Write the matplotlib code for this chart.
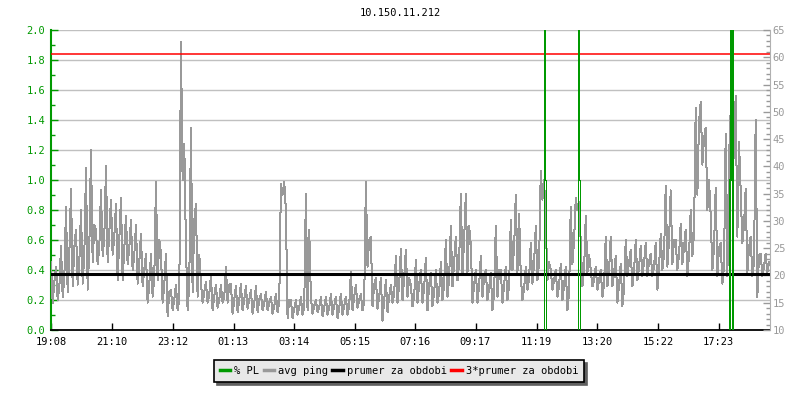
import numpy as np
import matplotlib
matplotlib.use("Agg")
import matplotlib.pyplot as plt
from matplotlib.lines import Line2D
from matplotlib.ticker import MultipleLocator

plt.rcParams['font.family'] = ['DejaVu Sans Mono']

title = '10.150.11.212'

# casove znacky na ose x (minuty od 19:08)
time_labels = ['19:08', '21:10', '23:12', '01:13', '03:14', '05:15',
               '07:16', '09:17', '11:19', '13:20', '15:22', '17:23']
time_pos = [0, 122, 244, 365, 486, 607, 728, 849, 971, 1092, 1214, 1335]
time_end = 1438

pl_ticks = [0.0, 0.2, 0.4, 0.6, 0.8, 1.0, 1.2, 1.4, 1.6, 1.8, 2.0]
ping_ticks = [10, 15, 20, 25, 30, 35, 40, 45, 50, 55, 60, 65]

# avg ping [ms] (max, min, stred pro kazdy usek)
ping_ms = [
    22.4, 15.0, 18.8, 21.6, 15.5, 17.7, 25.4, 16.1, 19.6, 32.6, 16.9, 23.8,
    35.9, 18.0, 25.1, 28.4, 18.3, 22.4, 32.0, 18.5, 23.8, 39.7, 17.4, 25.1,
    43.0, 22.4, 29.3, 28.4, 22.1, 25.1, 35.6, 23.5, 27.1, 40.0, 22.4, 27.9,
    33.9, 23.8, 27.1, 33.1, 19.1, 26.5, 34.2, 19.1, 25.1, 30.9, 22.1, 25.1,
    30.1, 21.0, 23.8, 29.3, 18.5, 22.4, 27.6, 18.0, 21.0, 24.0, 15.0, 18.3,
    24.0, 16.1, 19.6, 37.2, 19.1, 26.5, 24.0, 15.0, 18.3, 24.0, 12.5, 16.9,
    17.4, 13.6, 15.5, 18.3, 13.6, 15.5, 62.8, 37.5, 44.1, 25.4, 13.6, 18.3,
    47.1, 16.9, 30.1, 33.1, 16.1, 23.8, 18.8, 15.0, 16.9, 18.8, 15.0, 16.6,
    19.9, 13.6, 16.1, 18.3, 14.1, 15.5, 18.3, 15.0, 16.1, 21.6, 15.0, 18.3,
    18.5, 13.0, 15.5, 18.0, 13.3, 15.5, 18.5, 13.6, 15.5, 18.0, 13.9, 15.5,
    17.4, 13.0, 15.0, 18.0, 13.3, 15.5, 16.6, 13.6, 15.0, 16.9, 13.6, 15.0,
    16.1, 13.0, 14.4, 16.6, 13.3, 15.0, 36.7, 34.8, 37.2, 32.0, 12.2, 15.5,
    15.5, 12.2, 13.9, 15.5, 12.8, 14.1, 16.1, 12.8, 14.1, 35.0, 13.6, 28.4,
    16.1, 13.0, 14.4, 15.5, 13.3, 14.1, 16.1, 12.5, 14.1, 16.1, 12.8, 14.1,
    16.6, 12.8, 14.4, 16.1, 12.2, 14.1, 16.6, 12.8, 14.4, 16.1, 12.8, 14.4,
    20.7, 13.6, 16.1, 18.3, 14.1, 15.5, 16.6, 13.6, 15.0, 37.2, 21.6, 26.5,
    27.1, 14.4, 18.3, 19.6, 13.9, 16.1, 19.6, 11.7, 15.5, 19.1, 13.3, 16.1,
    18.3, 15.0, 16.6, 23.5, 15.0, 18.3, 24.9, 15.5, 19.6, 24.6, 16.1, 19.6,
    18.3, 14.4, 16.1, 22.9, 15.0, 18.3, 21.0, 15.0, 17.7, 23.2, 13.6, 18.3,
    20.5, 14.4, 16.9, 21.0, 15.0, 16.9, 22.4, 15.5, 18.3, 26.5, 16.1, 19.6,
    29.0, 18.0, 22.4, 27.1, 19.1, 22.4, 35.0, 20.5, 26.5, 35.0, 20.5, 29.0,
    25.7, 15.0, 18.3, 21.0, 15.0, 18.3, 23.5, 16.1, 19.6, 21.0, 15.5, 17.7,
    20.5, 13.6, 16.9, 29.0, 16.1, 21.0, 21.0, 15.0, 18.3, 21.6, 15.5, 18.3,
    30.1, 21.0, 25.1, 34.8, 20.5, 31.2, 19.9, 15.5, 17.7, 21.6, 17.4, 19.6,
    26.0, 18.5, 22.4, 29.0, 19.1, 22.4, 39.2, 33.9, 37.5, 29.5, 19.1, 22.4,
    21.0, 17.4, 19.1, 21.0, 16.1, 18.3, 22.1, 15.5, 18.3, 21.6, 13.6, 16.9,
    32.6, 22.1, 26.5, 34.2, 32.0, 33.4, 26.0, 18.0, 21.0, 30.9, 20.5, 23.8,
    21.0, 18.0, 19.1, 21.6, 17.4, 19.1, 21.0, 16.1, 18.3, 27.1, 18.0, 21.0,
    27.1, 18.0, 20.5, 23.5, 15.0, 18.3, 22.1, 14.4, 17.7, 26.5, 19.9, 22.4,
    24.6, 18.0, 21.0, 26.5, 19.1, 21.6, 25.4, 19.9, 22.4, 26.0, 19.9, 22.4,
    24.0, 19.9, 21.6, 26.0, 17.4, 21.6, 27.6, 21.0, 23.8, 36.4, 21.6, 26.5,
    35.6, 22.1, 26.5, 26.5, 21.0, 23.8, 29.5, 22.1, 25.1, 28.4, 19.9, 23.8,
    32.0, 23.5, 27.9, 50.7, 34.8, 48.2, 51.8, 40.3, 45.2, 47.1, 32.0, 37.5,
    30.9, 21.0, 25.1, 36.1, 19.9, 25.1, 26.0, 18.5, 21.6, 46.0, 19.9, 41.6,
    50.2, 38.1, 43.0, 52.9, 27.1, 44.4, 35.6, 26.0, 29.3, 35.9, 20.5, 25.1,
    27.1, 19.9, 22.4, 48.5, 16.1, 23.8, 24.0, 19.9, 21.6, 24.0, 20.5, 22.4,
]

# prumerny ping za obdobi [ms]
prumer = 20.2

# % PL - jednotlive vypadky (cas v minutach, hodnota v %)
pl_t1 = [986, 986, 987, 987, 989, 989]
pl_v1 = [0, 10, 10, 1.0, 1.0, 0]
pl_t2 = [1054, 1054, 1055, 1055, 1057, 1057]
pl_v2 = [0, 10, 10, 1.0, 1.0, 0]
pl_t3 = [1358, 1358, 1360, 1360, 1363, 1363]
pl_v3 = [0, 1.0, 1.0, 10, 10, 0]

green = '#009900'
gray = '#999999'

fig = plt.figure(figsize=(8, 4), dpi=100)
ax = fig.add_axes([51/800, 70/400, 719/800, 300/400])
ax.set_xlim(0, time_end)
ax.set_ylim(0, 2.0)
ax.set_yticks(pl_ticks)
ax.set_yticklabels(['%.1f' % v for v in pl_ticks])
ax.yaxis.set_minor_locator(MultipleLocator(0.1))
ax.set_xticks(time_pos)
ax.set_xticklabels(time_labels)
ax.yaxis.grid(True, color='#c0c0c0', lw=1)
ax.set_axisbelow(True)
ax.spines['top'].set_visible(False)
ax.spines['right'].set_visible(False)
ax.spines['left'].set_color(green)
ax.spines['left'].set_linewidth(1.5)
ax.spines['bottom'].set_color('black')
ax.spines['bottom'].set_linewidth(1.3)
ax.tick_params(axis='y', which='major', direction='in', length=5, width=1,
               color=green, labelcolor=green, labelsize=7.5, pad=4)
ax.tick_params(axis='y', which='minor', direction='in', length=3, width=1, color=green)
ax.tick_params(axis='x', direction='in', length=5, width=1, color='black',
               labelsize=7.5, pad=5)

# osa pro ping (vpravo)
axp = ax.twinx()
axp.set_ylim(10, 65)
axp.set_yticks(ping_ticks)
axp.yaxis.set_minor_locator(MultipleLocator(1))
for s in ['top', 'left', 'bottom']:
    axp.spines[s].set_visible(False)
axp.spines['right'].set_color('#b0b0b0')
axp.tick_params(axis='y', which='major', direction='in', length=5, width=1,
                color=gray, labelcolor=gray, labelsize=7.5, pad=2)
axp.tick_params(axis='y', which='minor', direction='in', length=3, width=1, color=gray)

t = np.linspace(0, time_end - 2, len(ping_ms))
axp.plot(t, ping_ms, color=gray, lw=0.72, antialiased=False)
axp.axhline(prumer, color='black', lw=2.2)
axp.axhline(3 * prumer, color='red', lw=1.1)

# osa pro % PL (nahore)
axl = ax.twinx()
axl.set_ylim(0, 2.0)
axl.axis('off')
axl.plot(pl_t1, pl_v1, color=green, lw=0.72, antialiased=False)
axl.plot(pl_t2, pl_v2, color=green, lw=0.72, antialiased=False)
axl.plot(pl_t3, pl_v3, color=green, lw=1.2, antialiased=False)

fig.text(0.5, 1 - 13/400, title, ha='center', va='center', fontsize=7.5)

handles = [Line2D([], [], color=green, lw=2.5),
           Line2D([], [], color=gray, lw=2.5),
           Line2D([], [], color='black', lw=2.5),
           Line2D([], [], color='red', lw=2.5)]
labels = ['% PL', 'avg ping', 'prumer za obdobi', '3*prumer za obdobi']
leg = fig.legend(handles, labels, loc='center', bbox_to_anchor=(399/800, 1 - 371/400),
                 ncol=4, fontsize=7.5, frameon=True, fancybox=False,
                 shadow={'facecolor': '#606060', 'edgecolor': '#606060', 'alpha': 1},
                 handlelength=1.0, handletextpad=0.4, columnspacing=0.4,
                 borderpad=0.55, framealpha=1)
leg.get_frame().set_facecolor('#e8e8e8')
leg.get_frame().set_edgecolor('black')
leg.get_frame().set_linewidth(1.2)

fig.savefig('out.png', dpi=100)
